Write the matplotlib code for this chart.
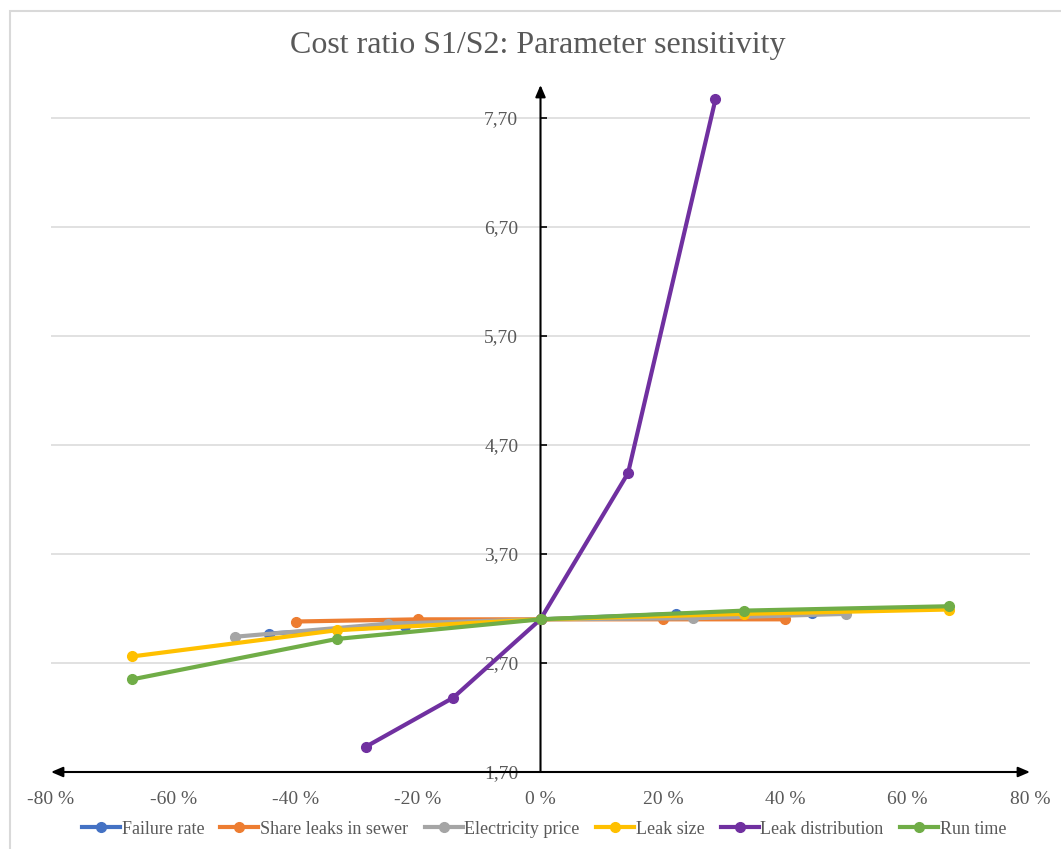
import matplotlib
matplotlib.use("Agg")
import matplotlib.pyplot as plt
from matplotlib.patches import Rectangle

plt.rcParams['font.family'] = ['Liberation Serif', 'DejaVu Serif']

# change of each parameter (%), and resulting cost ratio S1/S2
failure_x = [-44.4, -22.2, 0, 22.2, 44.4]
failure_y = [2.97, 3.04, 3.10, 3.15, 3.16]
sewer_x = [-40, -20, 0, 20, 40]
sewer_y = [3.08, 3.10, 3.10, 3.10, 3.10]
elec_x = [-50, -25, 0, 25, 50]
elec_y = [2.94, 3.06, 3.10, 3.11, 3.15]
size_x = [-66.7, -33.3, 0, 33.3, 66.7]
size_y = [2.76, 3.00, 3.10, 3.15, 3.19]
dist_x = [-28.6, -14.3, 0, 14.3, 28.6]
dist_y = [1.93, 2.38, 3.10, 4.44, 7.87]
run_x = [-66.7, -33.3, 0, 33.3, 66.7]
run_y = [2.55, 2.92, 3.10, 3.18, 3.22]

series = [
    ("Failure rate", failure_x, failure_y, "#4472C4"),
    ("Share leaks in sewer", sewer_x, sewer_y, "#ED7D31"),
    ("Electricity price", elec_x, elec_y, "#A5A5A5"),
    ("Leak size", size_x, size_y, "#FFC000"),
    ("Leak distribution", dist_x, dist_y, "#7030A0"),
    ("Run time", run_x, run_y, "#70AD47"),
]

yticks = [1.7, 2.7, 3.7, 4.7, 5.7, 6.7, 7.7]
ytick_labels = ["1,70", "2,70", "3,70", "4,70", "5,70", "6,70", "7,70"]
xticks = [-80, -60, -40, -20, 0, 20, 40, 60, 80]
xtick_labels = ["-80 %", "-60 %", "-40 %", "-20 %", "0 %", "20 %", "40 %", "60 %", "80 %"]

text_col = "#595959"

fig = plt.figure(figsize=(10.61, 8.49), dpi=100)
ax = fig.add_axes([51 / 1061, 1 - 772 / 849, (1030 - 51) / 1061, (772 - 85) / 849])

# chart border
fig.patches.append(Rectangle((9.5 / 1061, -0.1), 1.2, 1.1 - 10.5 / 849,
                             transform=fig.transFigure, fill=False,
                             edgecolor="#d9d9d9", linewidth=1.5))

for g in yticks[1:]:
    ax.axhline(g, color="#d9d9d9", linewidth=1.1, zorder=1)

for name, xs, ys, c in series:
    ax.plot(xs, ys, color=c, linewidth=3.0, marker="o", markersize=7,
            label=name, zorder=3)

ax.set_xlim(-80, 80)
ax.set_ylim(1.7, 8.0)

for s in ax.spines.values():
    s.set_visible(False)
ax.spines['left'].set_position(('data', 0))

ax.set_yticks(yticks)
ax.set_yticklabels(ytick_labels)
ax.set_xticks(xticks)
ax.set_xticklabels(xtick_labels)
ax.tick_params(axis='y', direction='in', length=4.5, width=1.2, pad=16,
               labelsize=14, labelcolor=text_col, color="black")
ax.tick_params(axis='x', length=0, pad=14, labelsize=14, labelcolor=text_col)

# axis arrows
ax.annotate("", xy=(0, 8.0), xytext=(0, 1.7), xycoords='data',
            arrowprops=dict(arrowstyle="-|>,head_length=0.7,head_width=0.3",
                            color="black", lw=1.5, shrinkA=0, shrinkB=0),
            zorder=2)
ax.annotate("", xy=(80, 1.7), xytext=(-80, 1.7), xycoords='data',
            arrowprops=dict(arrowstyle="<|-|>,head_length=0.7,head_width=0.3",
                            color="black", lw=1.5, shrinkA=0, shrinkB=0),
            zorder=2, annotation_clip=False)

fig.text(538 / 1061, 1 - 45 / 849, "Cost ratio S1/S2: Parameter sensitivity",
         ha="center", va="center", fontsize=23, color=text_col)

fig.legend(loc="center", bbox_to_anchor=(544 / 1061, 1 - 829 / 849), ncol=6,
           frameon=False, fontsize=13, handlelength=2.1, handletextpad=0.1,
           columnspacing=0.9, labelcolor=text_col)

fig.savefig("out.png", dpi=100)
